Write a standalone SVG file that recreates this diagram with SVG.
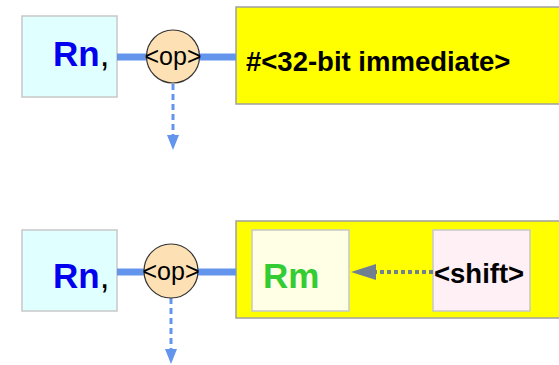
<svg xmlns="http://www.w3.org/2000/svg" width="559" height="365" viewBox="0 0 559 365">
<style>
.reg{fill:#e0ffff;stroke:#c8c8c8;stroke-width:1.5}
.op{fill:#fde1b4;stroke:#333;stroke-width:1.2}
.yel{fill:#ffff00;stroke:#a0a0a0;stroke-width:1.5}
.bus{stroke:#6495ed;stroke-width:7;fill:none}
.dash{stroke:#6495ed;stroke-width:3;stroke-dasharray:6 4;fill:none}
.big{font-family:"Liberation Sans",Arial,sans-serif;font-weight:bold;font-size:35px}
.lbl{font-family:"Liberation Sans",Arial,sans-serif;font-weight:bold;font-size:27.5px;fill:#000}
.optxt{font-family:"Liberation Sans",Arial,sans-serif;font-size:25px;fill:#000}
</style>
<g id="rn1">
<rect class="reg" x="22" y="16" width="95" height="81"/>
<text class="big" x="53" y="66"><tspan fill="#0000ee">Rn</tspan><tspan fill="#000" font-weight="normal">,</tspan></text>
</g>
<g id="imm">
<rect class="yel" x="236" y="7" width="330" height="97"/>
<text class="lbl" x="246" y="71">#&lt;32-bit immediate&gt;</text>
</g>
<g id="rn2">
<rect class="reg" x="22" y="230" width="95" height="81"/>
<text class="big" x="53" y="288"><tspan fill="#0000ee">Rn</tspan><tspan fill="#000" font-weight="normal">,</tspan></text>
</g>
<g id="shifted">
<rect class="yel" x="236" y="221" width="330" height="97"/>
</g>
<g id="rm">
<rect x="252" y="230" width="97" height="81" fill="#ffffe6" stroke="#c8c8c8" stroke-width="1.5"/>
<text class="big" x="263" y="288" fill="#33cc33">Rm</text>
</g>
<g id="shift">
<rect x="433" y="230" width="97" height="81" fill="#fff0f5" stroke="#c8c8c8" stroke-width="1.5"/>
<text class="lbl" x="434" y="283">&lt;shift&gt;</text>
</g>
<g id="connectors">
<line class="bus" x1="117" y1="57" x2="236" y2="57"/>
<line class="bus" x1="117" y1="272" x2="236" y2="272"/>
<path class="dash" d="M173,84 V136"/>
<path d="M167,135 L179,135 L173,150 z" fill="#6495ed"/>
<path class="dash" d="M171,298 V350"/>
<path d="M165,349 L177,349 L171,364 z" fill="#6495ed"/>
<path d="M433,272 H374" stroke="#708090" stroke-width="4" stroke-dasharray="4 3" fill="none"/>
<path d="M376,264 L351,272 L376,280 z" fill="#708090"/>
</g>
<g id="op1">
<circle class="op" cx="173" cy="56.5" r="26.5"/>
<text class="optxt" x="173" y="65" text-anchor="middle">&lt;op&gt;</text>
</g>
<g id="op2">
<circle class="op" cx="171" cy="271" r="27"/>
<text class="optxt" x="171" y="280" text-anchor="middle">&lt;op&gt;</text>
</g>
</svg>
